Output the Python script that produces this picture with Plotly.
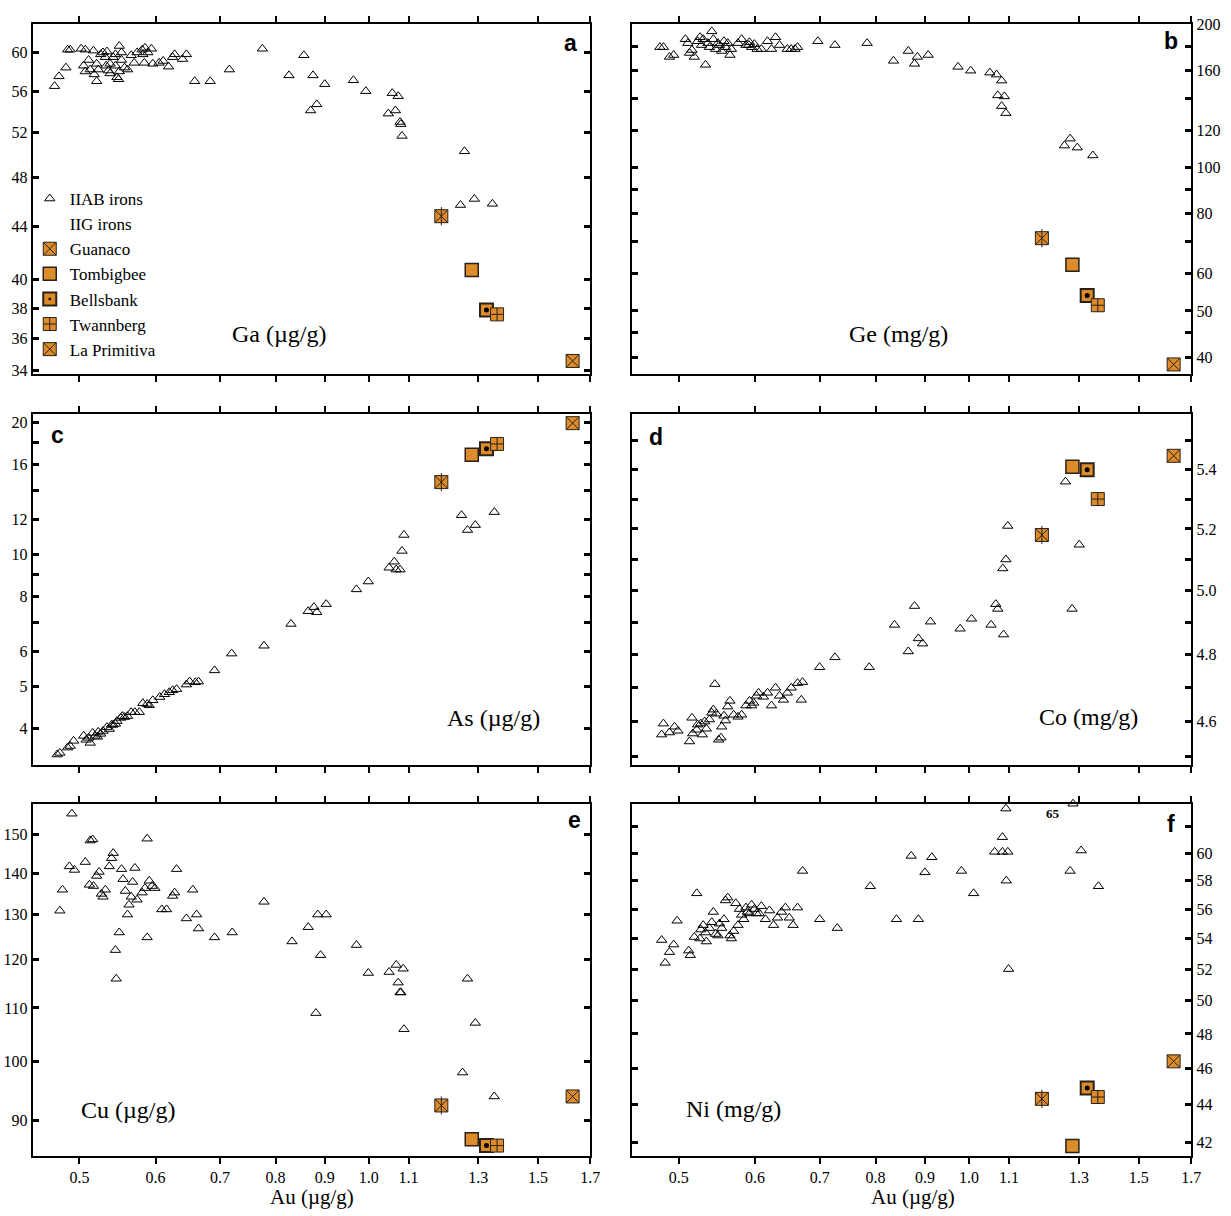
import math
import plotly.graph_objects as go

# ---------------- data ----------------
# Panel a: Ga vs Au (IIAB irons)
au_a = [0.471,0.476,0.484,0.486,0.489,0.502,0.507,0.505,0.507,0.511,
        0.513,0.517,0.518,0.521,0.521,0.523,0.526,0.529,0.532,0.534,
        0.533,0.536,0.538,0.538,0.542,0.545,0.545,0.547,0.549,0.550,
        0.550,0.553,0.553,0.557,0.561,0.566,0.570,0.574,0.581,0.582,
        0.585,0.589,0.594,0.584,0.596,0.605,0.611,0.619,0.625,0.628,
        0.640,0.646,0.659,0.684,0.716,0.775,0.826,0.856,0.875,0.900,
        0.870,0.883,0.964,0.993,1.058,1.073,1.066,1.048,1.078,1.080,
        1.083,1.258,1.246,1.288,1.345]
ga_iiab = [56.5,57.5,58.4,60.3,60.3,60.4,60.3,58.6,58.0,59.2,
           58.2,60.2,57.7,57.0,58.8,58.2,59.8,60.0,59.5,60.1,
           58.6,58.1,57.8,58.8,59.5,59.8,58.6,57.4,57.2,58.0,
           60.7,60.0,59.2,58.4,58.2,59.7,58.9,60.0,60.3,59.8,
           60.5,60.0,60.4,58.9,58.8,58.9,59.1,58.5,59.5,59.8,
           59.3,59.8,57.0,57.0,58.2,60.4,57.6,59.7,57.6,56.7,
           54.1,54.7,57.1,56.0,55.8,55.5,54.1,53.8,53.0,52.8,
           51.7,50.3,45.7,46.2,45.8]

# Panel b: Ge vs Au
au_b = [0.478,0.482,0.489,0.494,0.508,0.511,0.513,0.516,0.519,0.523,
        0.526,0.528,0.530,0.533,0.536,0.538,0.541,0.543,0.546,0.549,
        0.551,0.554,0.557,0.559,0.562,0.565,0.567,0.576,0.581,0.587,
        0.591,0.592,0.595,0.599,0.603,0.609,0.618,0.624,0.630,0.636,
        0.648,0.654,0.660,0.664,0.697,0.726,0.784,0.835,0.865,0.878,
        0.884,0.907,0.974,1.004,1.051,1.068,1.081,1.071,1.081,1.088,
        1.092,1.256,1.273,1.295,1.344]
ge_iiab = [179.2,179.2,170.9,172.5,186.2,182.7,174.2,176.7,170.9,184.4,
           188.0,181.0,186.2,164.5,182.7,179.2,193.4,186.2,177.5,182.7,
           181.0,175.9,184.4,179.2,182.7,172.5,177.5,182.7,186.2,181.0,
           181.0,183.5,179.2,181.8,177.5,177.5,184.4,177.5,188.0,181.0,
           177.5,177.5,177.5,179.2,184.4,181.0,182.7,167.7,175.9,165.3,
           170.9,172.5,162.9,159.9,158.4,156.9,152.4,141.9,134.7,141.2,
           130.2,111.3,115.1,110.2,106.1]

# Panel c: As vs Au
au_c = [0.474,0.477,0.486,0.489,0.493,0.505,0.508,0.511,0.513,0.516,
        0.519,0.522,0.523,0.526,0.529,0.534,0.537,0.540,0.542,0.545,
        0.547,0.552,0.554,0.557,0.561,0.566,0.571,0.577,0.582,0.588,
        0.591,0.596,0.606,0.613,0.620,0.625,0.631,0.646,0.651,0.660,
        0.665,0.691,0.720,0.778,0.830,0.865,0.877,0.883,0.903,0.971,
        0.999,1.050,1.063,1.068,1.078,1.083,1.088,1.249,1.267,1.291,
        1.351]
as_iiab = [3.49,3.52,3.62,3.65,3.75,3.85,3.77,3.81,3.71,3.91,
           3.85,3.83,3.93,3.89,3.95,4.03,3.99,4.08,4.08,4.10,
           4.16,4.23,4.27,4.25,4.27,4.36,4.36,4.36,4.57,4.55,
           4.52,4.64,4.72,4.79,4.84,4.89,4.92,5.04,5.12,5.10,
           5.12,5.43,5.93,6.18,6.93,7.41,7.57,7.37,7.69,8.31,
           8.66,9.31,9.61,9.22,9.22,10.17,11.06,12.27,11.35,11.65,
           12.47]

# Panel d: Co vs Au
au_d = [0.480,0.482,0.489,0.495,0.499,0.513,0.516,0.517,0.522,0.523,
        0.527,0.529,0.532,0.534,0.538,0.541,0.543,0.545,0.547,0.550,
        0.553,0.554,0.557,0.559,0.562,0.565,0.570,0.576,0.581,0.587,
        0.592,0.595,0.598,0.602,0.605,0.612,0.618,0.624,0.630,0.636,
        0.642,0.648,0.654,0.664,0.670,0.672,0.700,0.726,0.788,0.837,
        0.865,0.878,0.886,0.895,0.912,0.979,1.006,1.054,1.066,1.071,
        1.086,1.084,1.092,1.097,1.259,1.279,1.301]
co_iiab = [4.562,4.594,4.568,4.585,4.573,4.542,4.611,4.565,4.576,4.591,
           4.594,4.562,4.600,4.579,4.606,4.626,4.635,4.711,4.623,4.547,
           4.553,4.585,4.617,4.603,4.644,4.661,4.620,4.614,4.620,4.647,
           4.661,4.647,4.655,4.676,4.685,4.673,4.685,4.647,4.700,4.676,
           4.664,4.685,4.700,4.714,4.664,4.717,4.762,4.792,4.762,4.892,
           4.810,4.951,4.850,4.834,4.902,4.880,4.911,4.892,4.957,4.942,
           4.862,5.071,5.100,5.210,5.359,4.942,5.148]

# Panel e: Cu vs Au
au_e = [0.477,0.480,0.488,0.491,0.494,0.507,0.512,0.513,0.516,0.517,
        0.521,0.524,0.527,0.529,0.532,0.537,0.540,0.542,0.545,0.546,
        0.550,0.553,0.555,0.558,0.561,0.563,0.566,0.568,0.571,0.574,
        0.581,0.585,0.588,0.588,0.591,0.595,0.599,0.609,0.616,0.625,
        0.631,0.628,0.646,0.656,0.662,0.665,0.691,0.721,0.778,0.832,
        0.865,0.881,0.885,0.891,0.903,0.971,0.999,1.050,1.068,1.073,
        1.078,1.080,1.086,1.088,1.252,1.267,1.291,1.351]
cu_iiab = [130.9,135.9,141.7,155.7,140.8,142.8,137.1,148.4,148.7,136.8,
           139.3,140.3,134.9,134.2,135.9,141.7,143.8,145.1,122.0,115.9,
           125.9,141.0,138.5,135.6,130.0,132.3,134.2,137.8,141.3,133.5,
           135.2,136.3,124.8,148.9,138.1,136.8,136.3,131.2,131.2,134.4,
           141.0,135.2,129.1,135.9,130.0,126.8,124.8,125.9,133.0,123.9,
           127.1,109.0,130.0,120.9,130.0,123.1,117.1,117.3,118.8,115.1,
           113.1,113.1,118.0,105.9,98.0,115.9,107.1,93.9]

# Panel f: Ni vs Au
au_f = [0.480,0.484,0.489,0.494,0.498,0.512,0.514,0.519,0.522,0.526,
        0.527,0.530,0.533,0.534,0.538,0.541,0.543,0.546,0.549,0.551,
        0.554,0.557,0.559,0.562,0.565,0.567,0.570,0.573,0.576,0.578,
        0.581,0.584,0.587,0.589,0.592,0.595,0.599,0.602,0.606,0.609,
        0.615,0.621,0.627,0.633,0.639,0.645,0.651,0.657,0.664,0.672,
        0.700,0.730,0.790,0.841,0.871,0.886,0.900,0.915,0.982,1.011,
        1.063,1.083,1.083,1.097,1.093,1.092,1.099,1.273,1.307,1.362]
ni_iiab = [53.9,52.4,53.1,53.6,55.2,53.2,52.9,54.1,57.1,54.0,
           54.6,54.9,54.4,53.8,54.7,55.1,55.8,54.3,54.2,55.0,
           54.7,55.3,56.6,56.8,54.2,54.0,54.5,56.4,54.9,56.0,
           55.6,55.3,56.1,55.8,55.7,56.3,56.0,55.7,55.7,56.2,
           55.3,55.9,54.9,55.4,55.8,56.1,55.4,54.9,56.1,58.7,
           55.3,54.7,57.6,55.3,59.8,55.3,58.6,59.7,58.7,57.1,
           60.1,61.2,60.1,60.1,58.0,63.4,52.0,58.7,60.2,57.6]
# off-scale IIAB iron in panel f (plotted at the top edge, labelled)
au_f_off = [1.282]
ni_f_off = [65]

# IIG irons
iig_names = ["Guanaco", "Tombigbee", "Bellsbank", "Twannberg", "La Primitiva"]
iig_au = [1.19, 1.28, 1.326, 1.36, 1.63]
iig_ga = [44.8, 40.7, 37.9, 37.6, 34.6]
iig_ge = [71.1, 62.5, 53.9, 51.4, 38.6]
iig_as = [14.6, 16.85, 17.4, 17.84, 19.9]
iig_co = [5.18, 5.41, 5.40, 5.30, 5.448]
iig_cu = [92.4, 87.0, 86.0, 86.0, 93.9]
iig_ni = [44.3, 41.8, 44.9, 44.4, 46.4]

x_tickvals = [0.5, 0.6, 0.7, 0.8, 0.9, 1.0, 1.1, 1.3, 1.5, 1.7]
x_ticktext = ["0.5", "0.6", "0.7", "0.8", "0.9", "1.0", "1.1", "1.3", "1.5", "1.7"]

ga_ticks = [34, 36, 38, 40, 44, 48, 52, 56, 60]
ge_ticks = [200, 180, 160, 140, 120, 100, 90, 80, 70, 60, 50, 45, 40]
ge_labels = ["200", "", "160", "", "120", "100", "", "80", "", "60", "50", "", "40"]
as_ticks = [20, 18, 16, 14, 12, 10, 9, 8, 7, 6, 5, 4]
as_labels = ["20", "", "16", "", "12", "10", "", "8", "", "6", "5", "4"]
co_ticks = [5.5, 5.4, 5.3, 5.2, 5.1, 5.0, 4.9, 4.8, 4.7, 4.6, 4.5]
co_labels = ["", "5.4", "", "5.2", "", "5.0", "", "4.8", "", "4.6", ""]
cu_ticks = [150, 140, 130, 120, 110, 100, 90]
ni_ticks = [62, 60, 58, 56, 54, 52, 50, 48, 46, 44, 42]
ni_labels = ["", "60", "58", "56", "54", "52", "50", "48", "46", "44", "42"]

# ---------------- styling / layout ----------------
W, H = 1231, 1216
ORANGE = "#DC8C2A"
EDGE = "#2b2118"
SERIF = "Liberation Serif, Times New Roman, serif"
SANS = "Liberation Sans, Arial, sans-serif"

X_RANGE = [math.log10(0.447), math.log10(1.7)]
XL = [33 / W, 595 / W]
XR = [637 / W, 1201 / W]
ROW1 = [1 - 370 / H, 1 - 16 / H]
ROW2 = [1 - 766 / H, 1 - 411 / H]
ROW3 = [1 - 1161 / H, 1 - 805 / H]

panels = [
    (1, au_a, ga_iiab, iig_ga, (33.82, 63.15), XL, ROW1, "left", ga_ticks, [str(t) for t in ga_ticks]),
    (2, au_b, ge_iiab, iig_ge, (36.9, 200.6), XR, ROW1, "right", ge_ticks, ge_labels),
    (3, au_c, as_iiab, iig_as, (3.30, 20.85), XL, ROW2, "left", as_ticks, as_labels),
    (4, au_d, co_iiab, iig_co, (4.474, 5.594), XR, ROW2, "right", co_ticks, co_labels),
    (5, au_e, cu_iiab, iig_cu, (84.47, 158.5), XL, ROW3, "left", cu_ticks, [str(t) for t in cu_ticks]),
    (6, au_f, ni_iiab, iig_ni, (41.30, 63.78), XR, ROW3, "right", ni_ticks, ni_labels),
]

iig_style = {
    "Guanaco": dict(symbol="square-x", line=dict(color=EDGE, width=1)),
    "Tombigbee": dict(symbol="square", line=dict(color=EDGE, width=1.5)),
    "Bellsbank": dict(symbol="square-dot", line=dict(color=EDGE, width=2)),
    "Twannberg": dict(symbol="square-cross", line=dict(color=EDGE, width=1)),
    "La Primitiva": dict(symbol="square-x", line=dict(color=EDGE, width=1)),
}

fig = go.Figure()
layout = {}

for (i, au, vals, iig_vals, yr, xd, yd, side, tv, tt) in panels:
    xs = "x" if i == 1 else f"x{i}"
    ys = "y" if i == 1 else f"y{i}"
    xk = "xaxis" if i == 1 else f"xaxis{i}"
    yk = "yaxis" if i == 1 else f"yaxis{i}"
    first = (i == 1)

    fig.add_trace(go.Scatter(
        x=au, y=vals, xaxis=xs, yaxis=ys, mode="markers",
        name="IIAB irons", showlegend=first, legendgroup="iiab",
        marker=dict(symbol="triangle-up-open", size=9, color="black",
                    line=dict(width=1, color="black")),
        cliponaxis=False,
    ))
    if first:
        fig.add_trace(go.Scatter(
            x=[None], y=[None], xaxis=xs, yaxis=ys, mode="markers",
            name="IIG irons", showlegend=True,
            marker=dict(symbol="square", size=10, color="rgba(0,0,0,0)",
                        line=dict(width=0, color="rgba(0,0,0,0)")),
        ))
    for k, nm in enumerate(iig_names):
        st = iig_style[nm]
        fig.add_trace(go.Scatter(
            x=[iig_au[k]], y=[iig_vals[k]], xaxis=xs, yaxis=ys, mode="markers",
            name=nm, showlegend=first, legendgroup=nm,
            marker=dict(symbol=st["symbol"], size=13, color=ORANGE, line=st["line"]),
            cliponaxis=False,
        ))
        if nm == "Guanaco":
            fig.add_trace(go.Scatter(
                x=[iig_au[k]], y=[iig_vals[k]], xaxis=xs, yaxis=ys, mode="markers",
                showlegend=False, legendgroup=nm,
                marker=dict(symbol="line-ns-open", size=13, color=EDGE,
                            line=dict(width=1, color=EDGE)),
            ))
        if nm == "Bellsbank":
            fig.add_trace(go.Scatter(
                x=[iig_au[k]], y=[iig_vals[k]], xaxis=xs, yaxis=ys, mode="markers",
                showlegend=False, legendgroup=nm,
                marker=dict(symbol="circle", size=5, color="black"),
            ))

    bottom = i in (5, 6)
    layout[xk] = dict(
        type="log", range=X_RANGE, domain=xd, anchor=ys,
        tickvals=x_tickvals, ticktext=x_ticktext, showticklabels=bottom,
        ticks="outside", ticklen=6, tickwidth=1.5, tickcolor="black",
        showline=True, linecolor="black", linewidth=2, mirror="ticks",
        showgrid=False, zeroline=False,
        tickfont=dict(family=SERIF, size=16, color="black"),
    )
    layout[yk] = dict(
        type="log", range=[math.log10(yr[0]), math.log10(yr[1])],
        domain=yd, anchor=xs, side=side,
        tickvals=tv, ticktext=tt,
        ticks="inside", ticklen=6, tickwidth=2.5, tickcolor="black",
        showline=True, linecolor="black", linewidth=2, mirror="ticks",
        showgrid=False, zeroline=False,
        tickfont=dict(family=SERIF, size=16, color="black"),
    )

# off-scale Ni point (65 mg/g) drawn at the top border of panel f
ni_top = 63.78
fig.add_trace(go.Scatter(
    x=au_f_off, y=[min(v, ni_top) for v in ni_f_off], xaxis="x6", yaxis="y6",
    mode="markers", showlegend=False, cliponaxis=False,
    marker=dict(symbol="triangle-up-open", size=9, color="black",
                line=dict(width=1, color="black")),
))

def px(xp, yp):
    return xp / W, 1 - yp / H

annotations = []
letters = [("a", 575, 35), ("b", 1181, 33), ("c", 58, 432),
           ("d", 661, 434), ("e", 579, 821), ("f", 1181, 826)]
for t, xp, yp in letters:
    x, y = px(xp, yp)
    annotations.append(dict(text=f"<b>{t}</b>", x=x, y=y, xref="paper", yref="paper",
                            showarrow=False, xanchor="center", yanchor="middle",
                            font=dict(family=SANS, size=23, color="black")))
elements = [("Ga (µg/g)", 281, 330), ("Ge (mg/g)", 906, 330), ("As (µg/g)", 498, 718),
            ("Co (mg/g)", 1097, 717), ("Cu (µg/g)", 130, 1115), ("Ni (mg/g)", 740, 1114)]
for t, xp, yp in elements:
    x, y = px(xp, yp)
    annotations.append(dict(text=t, x=x, y=y, xref="paper", yref="paper",
                            showarrow=False, xanchor="center", yanchor="middle",
                            font=dict(family=SERIF, size=24, color="black")))
for xp in (315, 920):
    x, y = px(xp, 1203)
    annotations.append(dict(text="Au (µg/g)", x=x, y=y, xref="paper", yref="paper",
                            showarrow=False, xanchor="center", yanchor="middle",
                            font=dict(family=SERIF, size=21, color="black")))
x, y = px(1062, 815)
annotations.append(dict(text="<b>65</b>", x=x, y=y, xref="paper", yref="paper",
                        showarrow=False, xanchor="center", yanchor="middle",
                        font=dict(family=SERIF, size=13, color="black")))

fig.update_layout(
    width=W, height=H,
    margin=dict(l=0, r=0, t=0, b=0),
    paper_bgcolor="white", plot_bgcolor="white",
    showlegend=True,
    legend=dict(x=30 / W, y=1 - 175 / H, xanchor="left", yanchor="top",
                bgcolor="rgba(0,0,0,0)", borderwidth=0,
                font=dict(family=SERIF, size=17, color="black"),
                itemsizing="trace", tracegroupgap=0),
    annotations=annotations,
    **layout,
)

fig.write_html("out.html")
